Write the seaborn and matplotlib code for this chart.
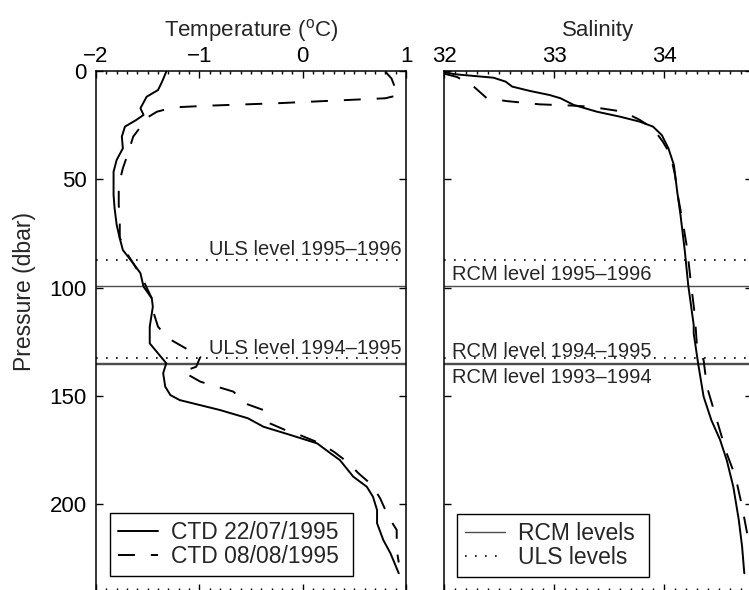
"""Temperature and salinity profiles with RCM/ULS instrument levels."""

import matplotlib

matplotlib.use("Agg")
import matplotlib.pyplot as plt
import pandas as pd
import seaborn as sns
from matplotlib.ticker import MultipleLocator

# CTD 22/07/1995 temperature profile
temp_jul_p = [0.3, 4.9, 8.8, 11.9, 17.2, 20.3, 22.6, 25.7, 30.3, 35.7, 41.1, 46.5,
              57.3, 63.4, 71.1, 77.3, 82.7, 88.8, 93.4, 99.6, 105, 108.9, 118.1,
              125.8, 135, 139.6, 145.8, 149.7, 152, 156.6, 160.4, 164.3, 168.1,
              172, 176.6, 179.7, 187.4, 192, 196.6, 202.8, 208.9, 216.6, 222.8, 232]
temp_jul = [-1.32, -1.36, -1.40, -1.51, -1.57, -1.54, -1.61, -1.72, -1.75, -1.74,
            -1.80, -1.83, -1.83, -1.82, -1.80, -1.77, -1.74, -1.64, -1.57, -1.54,
            -1.46, -1.45, -1.48, -1.48, -1.32, -1.35, -1.33, -1.28, -1.19, -0.80,
            -0.53, -0.38, -0.12, 0.14, 0.27, 0.36, 0.49, 0.62, 0.68, 0.72, 0.72,
            0.78, 0.85, 0.93]

# CTD 08/08/1995 temperature profile
temp_aug_p = [0.3, 3.5, 7.2, 11.1, 12.6, 13.4, 14.9, 16.0, 16.8, 18.8, 21.1, 23.4,
              30.3, 38, 44.9, 52.7, 61.9, 68, 77, 85, 95, 105, 112, 118.1, 123.5,
              132, 136.6, 138.9, 143.5, 145.8, 148.1, 153.5, 156.6, 160.4, 162.7,
              165.8, 168.1, 172, 175.8, 180.5, 185.8, 191.2, 197.4, 205.9, 212,
              221.2, 227]
temp_aug = [0.80, 0.86, 0.89, 0.93, 0.80, 0.43, -0.25, -0.90, -1.25, -1.41, -1.49,
            -1.53, -1.64, -1.69, -1.74, -1.78, -1.78, -1.77, -1.77, -1.69, -1.56,
            -1.46, -1.44, -1.40, -1.30, -0.99, -1.03, -1.16, -0.99, -0.83, -0.67,
            -0.56, -0.38, -0.32, -0.32, -0.17, -0.03, 0.17, 0.30, 0.43, 0.54, 0.67,
            0.75, 0.83, 0.91, 0.91, 0.93]

# salinity profiles
sal_jul_p = [0.5, 1.5, 3.1, 4.9, 7.2, 9.2, 11.1, 12.6, 15.7, 18.8, 21.1, 23.4, 25.7,
             29.6, 35.7, 43.4, 55.7, 66.5, 83.5, 98.8, 117.3, 121.2, 135, 150.4,
             161.2, 170.4, 179.7, 192, 207.4, 219.7, 232]
sal_jul = [32.0, 32.1, 32.45, 32.56, 32.62, 32.78, 32.96, 33.06, 33.18, 33.39, 33.60,
           33.78, 33.90, 33.98, 34.04, 34.09, 34.12, 34.15, 34.19, 34.22, 34.27,
           34.27, 34.31, 34.36, 34.43, 34.51, 34.57, 34.63, 34.68, 34.71, 34.73]

sal_aug_p = [1.2, 2.8, 7.2, 12.6, 13.9, 15.4, 16.0, 16.5, 18.8, 22.6, 26.5, 32.7,
             38.8, 48, 58.8, 69.6, 81.9, 95.8, 112.7, 127.3, 133.5, 145.8, 161.2,
             176.6, 187.4, 201.2, 212, 219.7, 228]
sal_aug = [32.0, 32.12, 32.27, 32.39, 32.57, 32.87, 33.18, 33.33, 33.63, 33.78, 33.90,
           33.99, 34.06, 34.10, 34.13, 34.17, 34.21, 34.24, 34.28, 34.30, 34.36,
           34.39, 34.48, 34.57, 34.65, 34.71, 34.75, 34.78, 34.83]

# instrument levels (dbar)
uls_levels = [87.3, 132.7]
uls_names = ["ULS level 1995\u20131996", "ULS level 1994\u20131995"]
rcm_levels = [99.5, 134.9, 135.5]
rcm_names = ["RCM level 1995\u20131996", "RCM level 1994\u20131995", "RCM level 1993\u20131994"]

sns.set_theme(style="ticks")
plt.rcParams["font.family"] = ["Liberation Sans", "DejaVu Sans"]
plt.rcParams["mathtext.fontset"] = "custom"
plt.rcParams["mathtext.rm"] = "Liberation Sans"
plt.rcParams["axes.unicode_minus"] = True

FS = 16
LW = 1.4
DASH = (8.7, 8.2)
DOT = (0, (1, 5))

df_t1 = pd.DataFrame({"p": temp_jul_p, "v": temp_jul})
df_t2 = pd.DataFrame({"p": temp_aug_p, "v": temp_aug})
df_s1 = pd.DataFrame({"p": sal_jul_p, "v": sal_jul})
df_s2 = pd.DataFrame({"p": sal_aug_p, "v": sal_aug})

fig = plt.figure(figsize=(7.49, 5.90), dpi=100)
H = 519.6 / 590
ax1 = fig.add_axes([96 / 749, -0.6 / 590, 310 / 749, H])
ax2 = fig.add_axes([444 / 749, -0.6 / 590, 308 / 749, H])

sns.lineplot(data=df_t1, x="v", y="p", sort=False, estimator=None, orient="y",
             color="black", lw=LW, ax=ax1, label="CTD 22/07/1995 ")
sns.lineplot(data=df_t2, x="v", y="p", sort=False, estimator=None, orient="y",
             color="black", lw=LW, ax=ax1, label="CTD 08/08/1995 ")
ax1.lines[-1].set_dashes(DASH)

sns.lineplot(data=df_s1, x="v", y="p", sort=False, estimator=None, orient="y",
             color="black", lw=LW, ax=ax2, legend=False)
sns.lineplot(data=df_s2, x="v", y="p", sort=False, estimator=None, orient="y",
             color="black", lw=LW, ax=ax2, legend=False)
ax2.lines[-1].set_dashes(DASH)

rcm_handle = uls_handle = None
for ax in (ax1, ax2):
    for lev in uls_levels:
        uls_handle = ax.axhline(lev, color="black", lw=1.2, ls=DOT, zorder=1)
    for lev in rcm_levels:
        rcm_handle = ax.axhline(lev, color="0.3", lw=1.0, zorder=1)

for lev, name in zip(uls_levels, uls_names):
    ax1.text(0.96, lev - 2.1, name, ha="right", va="baseline", fontsize=14.5)
ax2.text(32.07, 96.5, rcm_names[0], ha="left", va="baseline", fontsize=14.5)
ax2.text(32.07, 132.3, rcm_names[1], ha="left", va="baseline", fontsize=14.5)
ax2.text(32.07, 144.0, rcm_names[2], ha="left", va="baseline", fontsize=14.5)

for ax in (ax1, ax2):
    ax.set_ylim(240, 0)
    ax.set_yticks([0, 50, 100, 150, 200])
    ax.xaxis.set_minor_locator(MultipleLocator(0.1))
    ax.xaxis.set_label_position("top")
    ax.tick_params(which="both", direction="in", top=True, bottom=True, left=True,
                   right=True, labeltop=True, labelbottom=False, labelsize=FS,
                   colors="black", width=1.0)
    ax.tick_params(which="major", length=5)
    ax.tick_params(which="minor", length=2.2)
    ax.tick_params(axis="x", pad=3)
    ax.tick_params(axis="y", pad=6.5)
    for sp in ax.spines.values():
        sp.set_linewidth(1.1)
        sp.set_color("black")
    ax.grid(False)

ax1.set_xlim(-2, 1)
ax1.set_xticks([-2, -1, 0, 1])
ax2.set_xlim(32, 34.8)
ax2.set_xticks([32, 33, 34])
ax2.tick_params(labelleft=False)

ax1.set_xlabel("Temperature ($^{\\rm o}$C)", fontsize=FS, labelpad=7)
ax2.set_xlabel("Salinity", fontsize=FS, labelpad=7)
ax1.set_ylabel("Pressure (dbar)", fontsize=FS + 0.5)
ax1.yaxis.set_label_coords(-0.195, 0.575)
ax2.set_ylabel("")

leg_kw = dict(loc="lower left", borderaxespad=0, fontsize=16.5, frameon=True,
              fancybox=False, framealpha=1, edgecolor="black", handlelength=1.75,
              handletextpad=0.55, labelspacing=0.05, borderpad=0.35)
h1, l1 = ax1.get_legend_handles_labels()
leg1 = ax1.legend(h1, l1, bbox_to_anchor=(0.045, 0.028), **leg_kw)
leg2 = ax2.legend([rcm_handle, uls_handle], ["RCM levels ", "ULS levels "],
                  bbox_to_anchor=(0.042, 0.026), **leg_kw)
for leg in (leg1, leg2):
    leg.get_frame().set_linewidth(1.0)

fig.savefig("out.png", dpi=100)
